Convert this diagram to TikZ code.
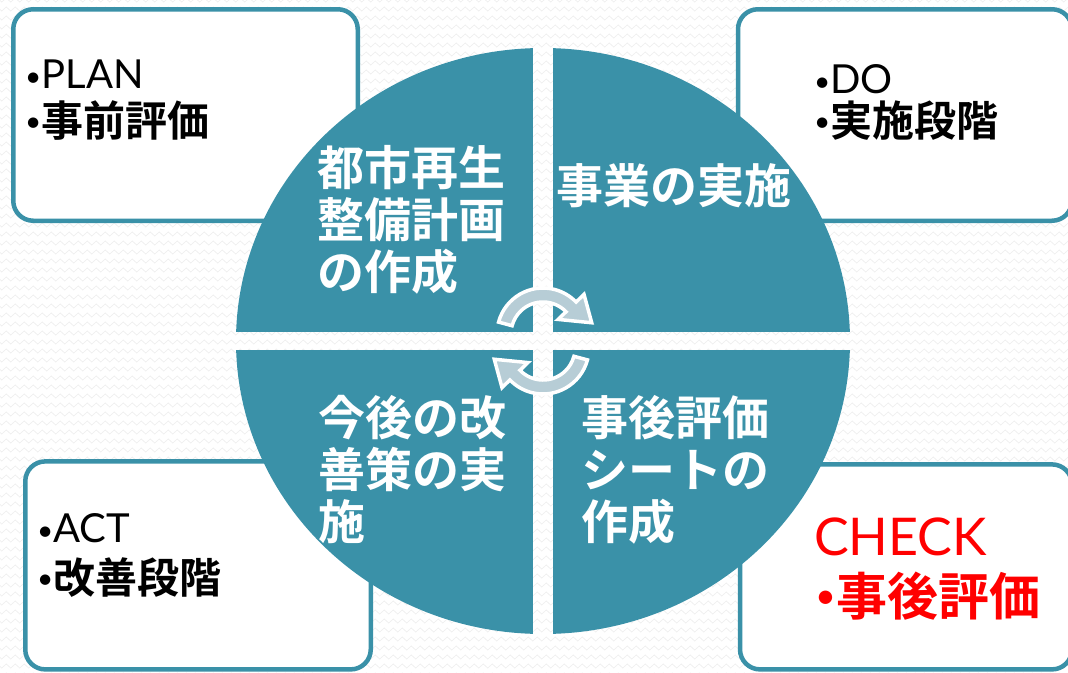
\documentclass[tikz,border=0pt]{standalone}
\usepackage{fontspec}
\setmainfont{Lato}
\newfontfamily\jpfont{Noto Sans CJK JP}[BoldFont={* Bold}]
\usetikzlibrary{decorations.pathmorphing}
\definecolor{cycleteal}{RGB}{58,145,168}
\definecolor{arrowgray}{RGB}{183,205,214}
\definecolor{checkred}{RGB}{255,0,0}
\newcommand\pbul[2]{\raisebox{#2}{\normalfont\fontsize{#1}{#1}\selectfont •}}
\tikzset{
  stagebox/.style={draw=cycleteal, line width=4.5pt, fill=white, rounded corners=20pt, inner sep=0pt},
  boxtext/.style={anchor=north west, inner sep=0pt, font=\fontsize{40}{44}\selectfont},
  boxjp/.style={anchor=north west, inner sep=0pt, font=\fontsize{42}{48}\selectfont\jpfont\bfseries},
  quadtext/.style={anchor=north west, inner sep=0pt, align=left, text=white, font=\fontsize{47}{52}\selectfont\jpfont\bfseries},
  cyclearrow/.style={fill=arrowgray, draw=white, line width=3.5pt}
}
\begin{document}
\begin{tikzpicture}[x=1pt, y=-1pt]
    \def\cx{543}
    \def\cy{341}
    \def\gx{10}
    \def\gy{9}
    \useasboundingbox (0,0) rectangle (1068,672);
    \clip (0,0) rectangle (1068,672);
    % background
    \foreach \r in {0,...,75}
      \draw[black!6, line width=0.8pt, decorate, decoration={zigzag, segment length=9pt, amplitude=2pt}] (-5,\r*9) -- (1075,\r*9);
    % stage boxes
    \node[stagebox, minimum width=344.5pt, minimum height=211.5pt] (B0_0) at (185.5,115) {};
    \node[stagebox, minimum width=334pt, minimum height=211.5pt] (B0_1) at (905,115) {};
    \node[stagebox, minimum width=345.5pt, minimum height=208pt] (B1_0) at (198,565.4) {};
    \node[stagebox, minimum width=332pt, minimum height=205pt] (B1_1) at (906,566.9) {};
    \node[boxtext] (B0_0a) at (25,60) {\pbul{28}{2pt}PLAN};
    \node[boxjp] (B0_0b) at (25,100) {\pbul{28}{5pt}事前評価};
    \node[boxtext] (B0_1a) at (814,64) {\pbul{28}{2pt}DO};
    \node[boxjp] (B0_1b) at (814,101) {\pbul{28}{5pt}実施段階};
    \node[boxtext] (B1_0a) at (37,513) {\pbul{28}{2pt}ACT};
    \node[boxjp] (B1_0b) at (37,558) {\pbul{28}{5pt}改善段階};
    \node[boxtext, text=checkred, font=\fontsize{52}{56}\selectfont] (B1_1a) at (814,518) {CHECK};
    \node[boxjp, text=checkred, font=\fontsize{51}{56}\selectfont\jpfont\bfseries] (B1_1b) at (815,572) {\pbul{36}{7pt}事後評価};
    % the four quarters
    \begin{scope}
      \clip (\cx,\cy) ellipse [x radius=307, y radius=293];
      \foreach \sx/\sy in {-1/-1,1/-1,-1/1,1/1}
        \fill[cycleteal] (\cx+\sx*\gx, \cy+\sy*\gy) rectangle (\cx+\sx*400, \cy+\sy*400);
    \end{scope}
    \node[quadtext] (T0_0) at (317,145) {都市再生\\整備計画\\の作成};
    \node[quadtext] (T0_1) at (556,163) {事業の実施};
    \node[quadtext] (T1_0) at (318,395) {今後の改\\善策の実\\施};
    \node[quadtext] (T1_1) at (581,395) {事後評価\\シートの\\作成};
    % turning arrows
    \foreach \rot in {0,180}
      \path[cyclearrow, shift={(\cx,\cy)}, rotate=\rot, shift={(0,-7)}]
        (195:46) arc[start angle=195, end angle=316, radius=46] -- (316:57) -- (347:50)
        -- (316:21) -- (316:32) arc[start angle=316, end angle=195, radius=32] -- cycle;
  \end{tikzpicture}
\end{document}
